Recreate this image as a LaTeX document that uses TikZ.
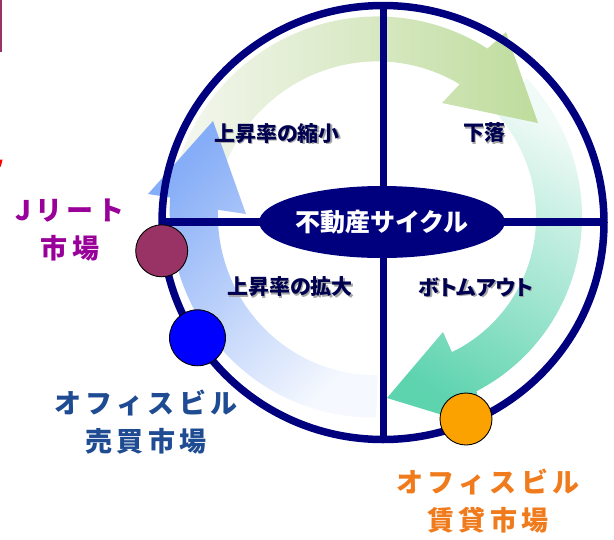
\documentclass[tikz,border=0pt]{standalone}
\usepackage{fontspec}
\usetikzlibrary{shapes.geometric}
\newfontfamily\jp{Noto Sans CJK JP}
\newfontfamily\jpp{Noto Sans CJK JP}[RawFeature=+palt]
\newfontfamily\jpls{Noto Sans CJK JP}[LetterSpace=16]
\definecolor{ringnavy}{HTML}{00007F}
\definecolor{qnavy}{HTML}{000050}
\definecolor{jfill}{HTML}{993366}
\definecolor{jtext}{HTML}{990099}
\definecolor{otext}{HTML}{1E4B91}
\definecolor{rtext}{HTML}{F07B1C}
\definecolor{rfill}{HTML}{FBA200}
\definecolor{gpale}{HTML}{F5F7F0}
\definecolor{gmid}{HTML}{E0EBD0}
\definecolor{gstrong}{HTML}{BEDC9C}
\definecolor{tpale}{HTML}{F0FAF7}
\definecolor{tmid}{HTML}{B5E9D8}
\definecolor{tstrong}{HTML}{5DD3AE}
\definecolor{bpale}{HTML}{F5F8FE}
\definecolor{bmid}{HTML}{B5CDF9}
\definecolor{bstrong}{HTML}{86ADF7}
\begin{document}
\begin{tikzpicture}[x=1pt,y=-1pt,
  ringline/.style={draw=ringnavy, line width=7.5pt},
  market/.style={circle, draw=black, line width=0.9pt, minimum size=52pt, inner sep=0pt},
  qlabel/.style={text=qnavy, font=\jpp\bfseries\fontsize{21}{21}\selectfont, inner sep=0pt},
  qshadow/.style={qlabel, text=black!35},
  mlabel/.style={font=\jpls\bfseries\fontsize{27}{38}\selectfont, align=center, inner sep=0pt}]
\path[use as bounding box] (0,0) rectangle (614,539);

% fragments at the left edge
\fill[jfill] (0,0) rectangle (2,52);
\fill[red] (0,159.5) -- (2.6,159.5) -- (0.8,166.5) -- (0,166.5) -- cycle;

% arrow head points (screen coordinates)
\coordinate (gOC) at (506,32);
\coordinate (gT) at (538,123);
\coordinate (gIC) at (442,103);
\coordinate (tOC) at (485,428);
\coordinate (tT) at (387,398);
\coordinate (tIC) at (443,332);
\coordinate (bOC) at (148,194);
\coordinate (bT) at (213,121);
\coordinate (bIC) at (246,214);

\begin{scope}[shift={(383,222.5)}, y=1pt]
  % teal arrow (right side, downward)
  \shade[top color=tpale, middle color=tmid, bottom color=tstrong, shading angle=-30]
    plot[domain=45:-61, samples=60, variable=\t] ({\t}:{199+0.1*\t})
    -- (tOC) -- (tT) -- (tIC)
    -- plot[domain=-62:45, samples=60, variable=\t] ({\t}:{153+0.1*\t}) -- cycle;
  % green arrow (top, to the right)
  \shade[left color=gpale, middle color=gmid, right color=gstrong]
    plot[domain=168:59, samples=60, variable=\t] ({\t}:{203+(\t-60)*0.1})
    -- (gOC) -- (gT) -- (gIC)
    -- plot[domain=61:168, samples=60, variable=\t] ({\t}:{158+(\t-60)*0.1}) -- cycle;
  % blue arrow (left side, upward)
  \shade[top color=bstrong, middle color=bmid, bottom color=bpale, shading angle=45]
    plot[domain=268:173.3, samples=60, variable=\t] ({\t}:{213-(\t-180)*0.205})
    -- (bOC) -- (bT) -- (bIC)
    -- plot[domain=175.6:268, samples=60, variable=\t] ({\t}:{165-(\t-180)*0.14}) -- cycle;
\end{scope}

% cross lines and ring
\coordinate (rL) at (162,222);
\coordinate (rR) at (604,222);
\coordinate (rT) at (383.5,6);
\coordinate (rB) at (383.5,439);
\draw[ringline] (rL) -- (rR);
\draw[ringline] (rT) -- (rB);
\draw[ringline] (383,222.5) ellipse [x radius=221, y radius=217];

% centre label
\node[ellipse, fill=ringnavy, minimum width=200pt, minimum height=72pt, inner sep=0pt,
      text=white, font=\jp\bfseries\fontsize{25}{25}\selectfont] (cyc) at (382,222) {不動産サイクル};

% quadrant labels
\node[qshadow] at (278.5,134.5) {上昇率の縮小};
\node[qlabel] (q1) at (277,133) {上昇率の縮小};
\node[qshadow] at (485.5,134.5) {下落};
\node[qlabel] (q2) at (484,133) {下落};
\node[qshadow] at (291.5,288.5) {上昇率の拡大};
\node[qlabel] (q3) at (290,287) {上昇率の拡大};
\node[qshadow] at (477.5,288.5) {ボトムアウト};
\node[qlabel] (q4) at (476,287) {ボトムアウト};

% market circles
\node[market, fill=jfill] (jreit) at (161.7,250.8) {};
\node[market, fill=blue, minimum size=56pt] (office) at (197.5,337.8) {};
\node[market, fill=rfill] (rent) at (466,419) {};

% market labels
\node[mlabel, text=jtext] (jreitlab) at (70,230) {Jリート\\市場};
\node[mlabel, text=otext] (officelab) at (146,422) {オフィスビル\\売買市場};
\node[mlabel, text=rtext] (rentlab) at (488,501) {オフィスビル\\賃貸市場};
\end{tikzpicture}
\end{document}
